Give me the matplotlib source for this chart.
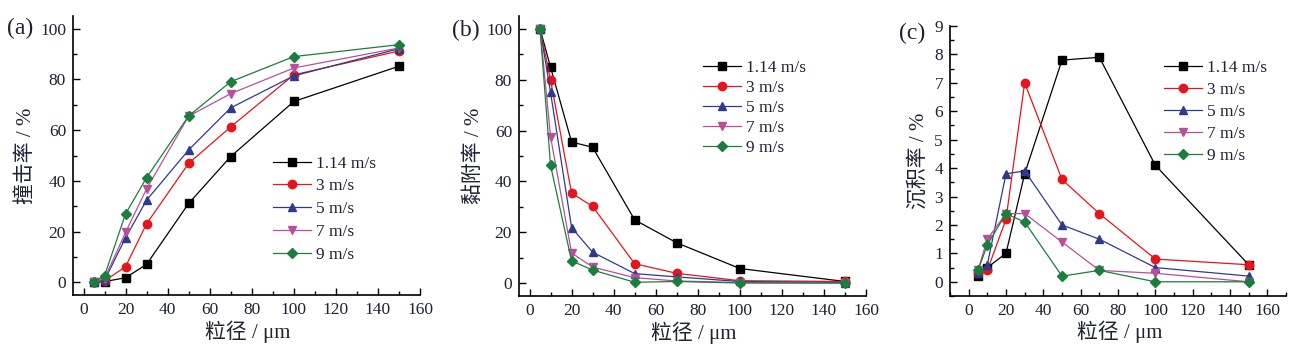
import matplotlib.pyplot as plt
from matplotlib.ticker import MultipleLocator

plt.rcParams['font.family'] = ['Liberation Serif', 'Noto Sans CJK SC']

size = [5, 10, 20, 30, 50, 70, 100, 150]
speeds = ['1.14 m/s', '3 m/s', '5 m/s', '7 m/s', '9 m/s']

# (a) impact rate
impact = [
    [0, 0.3, 1.8, 7.1, 31.1, 49.6, 71.3, 85.2],
    [0, 0.5, 6.2, 23.1, 46.9, 61.3, 81.8, 91.2],
    [0, 0.8, 17.6, 32.4, 52.2, 68.8, 81.4, 92.1],
    [0.2, 1.5, 19.7, 36.9, 65.5, 74.4, 84.5, 92.4],
    [0.3, 2.6, 27.0, 41.3, 65.6, 79.1, 89.0, 93.7],
]
# (b) adhesion rate
adhesion = [
    [100, 84.9, 55.5, 53.4, 24.9, 15.9, 5.8, 0.7],
    [100, 79.9, 35.4, 30.2, 7.7, 3.9, 1.0, 0.7],
    [100, 75.0, 21.9, 12.2, 3.8, 2.5, 0.7, 0.3],
    [100, 57.6, 11.9, 6.4, 2.2, 0.9, 0.3, 0.1],
    [100, 46.3, 8.8, 5.2, 0.4, 0.7, 0.1, 0.1],
]
# (c) deposition rate
deposition = [
    [0.2, 0.5, 1.0, 3.8, 7.8, 7.9, 4.1, 0.6],
    [0.3, 0.4, 2.2, 7.0, 3.6, 2.4, 0.8, 0.6],
    [0.3, 0.6, 3.8, 3.9, 2.0, 1.5, 0.5, 0.2],
    [0.4, 1.5, 2.4, 2.4, 1.4, 0.4, 0.3, 0.0],
    [0.4, 1.3, 2.4, 2.1, 0.2, 0.4, 0.0, 0.0],
]

colors = ['black', '#e8141b', '#2e3a8f', '#b94f9c', '#1a7f3a']
markers = ['s', 'o', '^', 'v', 'D']
msizes = [5.5, 6, 6, 6, 5]
txt = '#1e2233'

fig = plt.figure(figsize=(13.02, 3.46), dpi=100)
W, H = 1302, 346

panels = [
    dict(box=(73, 420, 16, 295), data=impact, ylab='撞击率 / %', tag='(a)', tagpos=(7, 28),
         xlim=(-5, 160), ylim=(-5, 105), ymaj=20, ymin=10, leg=(0.576, 0.50), ls=0.38, lx=-0.108),
    dict(box=(519, 866, 16, 296), data=adhesion, ylab='黏附率 / %', tag='(b)', tagpos=(452, 30),
         xlim=(-5, 160), ylim=(-5, 105), ymaj=20, ymin=10, leg=(0.530, 0.843), ls=0.22, lx=-0.102),
    dict(box=(950, 1286, 26, 296), data=deposition, ylab='沉积率 / %', tag='(c)', tagpos=(899, 33),
         xlim=(-10, 170), ylim=(-0.5, 9), ymaj=1, ymin=0.5, leg=(0.637, 0.875), ls=0.34, lx=-0.064),
]

for p in panels:
    l, r, t, b = p['box']
    ax = fig.add_axes([l / W, 1 - b / H, (r - l) / W, (b - t) / H])
    for i, ys in enumerate(p['data']):
        ax.plot(size, ys, color=colors[i], marker=markers[i], ms=msizes[i], lw=0.9,
                label=speeds[i])
    ax.set_xlim(*p['xlim'])
    ax.set_ylim(*p['ylim'])
    ax.xaxis.set_major_locator(MultipleLocator(20))
    ax.xaxis.set_minor_locator(MultipleLocator(10))
    ax.yaxis.set_major_locator(MultipleLocator(p['ymaj']))
    ax.yaxis.set_minor_locator(MultipleLocator(p['ymin']))
    for s in ['top', 'right']:
        ax.spines[s].set_visible(False)
    for s in ['left', 'bottom']:
        ax.spines[s].set_linewidth(1.2)
    ax.tick_params(which='both', direction='in', width=1.0, labelsize=12.5, colors='black',
                   labelcolor=txt)
    ax.tick_params(which='major', length=5, pad=5)
    ax.tick_params(which='minor', length=3)
    ax.set_xlabel('粒径 / μm', fontsize=15, color=txt)
    ax.set_ylabel(p['ylab'], fontsize=15, color=txt)
    ax.xaxis.set_label_coords(0.504, -0.09)
    ax.yaxis.set_label_coords(p['lx'], 0.5)
    leg = ax.legend(loc='upper left', bbox_to_anchor=p['leg'], frameon=False, fontsize=12.5,
                    borderpad=0, borderaxespad=0, handlelength=2.2, handletextpad=0.3,
                    labelspacing=p['ls'])
    for tx in leg.get_texts():
        tx.set_color(txt)
    fig.text(p['tagpos'][0] / W, 1 - p['tagpos'][1] / H, p['tag'], fontsize=17, color=txt,
             ha='left', va='center')

fig.savefig('out.png', dpi=100)
